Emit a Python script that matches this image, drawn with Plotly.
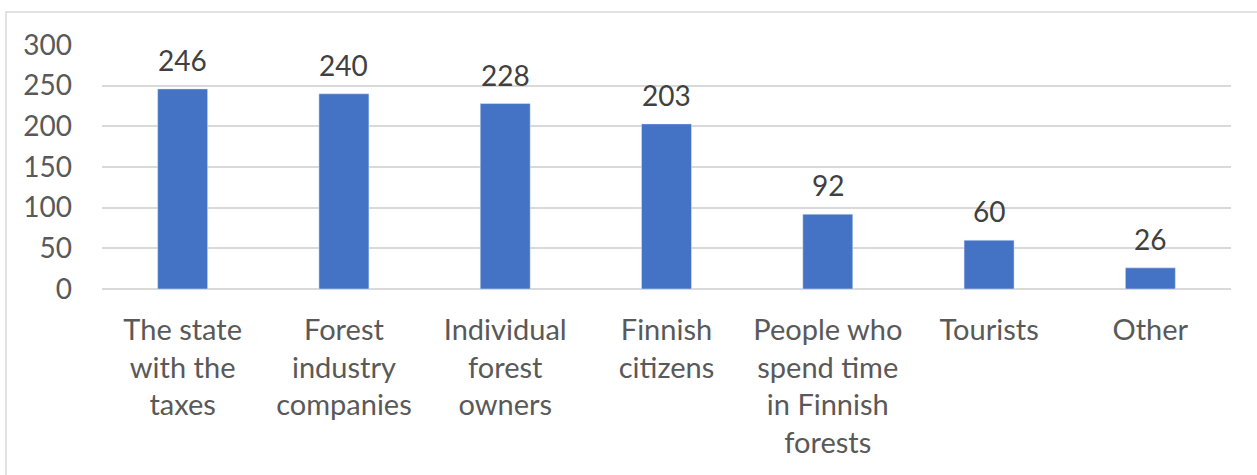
import plotly.graph_objects as go

categories = ["The state<br>with the<br>taxes", "Forest<br>industry<br>companies",
              "Individual<br>forest<br>owners", "Finnish<br>citizens",
              "People who<br>spend time<br>in Finnish<br>forests", "Tourists", "Other"]
values = [246, 240, 228, 203, 92, 60, 26]
y_ticks = [0, 50, 100, 150, 200, 250, 300]

W, H = 1257, 475
L, R, T, B = 102, 26, 45, 186
pw, ph = W - L - R, H - T - B

fig = go.Figure(go.Bar(
    x=categories, y=values, marker_color="#4472C4",
))

for c, v in zip(categories, values):
    fig.add_annotation(x=c, y=v, text=str(v), showarrow=False, yanchor="middle",
                       yshift=29, font=dict(size=28, color="#404040", family="Lato"))

fig.update_layout(
    width=W, height=H,
    margin=dict(l=L, r=R, t=T, b=B),
    paper_bgcolor="white", plot_bgcolor="white",
    bargap=0.69, showlegend=False,
    font=dict(family="Lato", color="#595959", size=28),
)
fig.update_xaxes(showgrid=False, showline=False, ticks="", tickfont=dict(size=29, color="#595959"),
                 ticklabelstandoff=21)
fig.update_yaxes(range=[0, 300], tickvals=y_ticks, showgrid=True, gridcolor="#d9d9d9", gridwidth=1.5,
                 zeroline=True, zerolinecolor="#d9d9d9", zerolinewidth=1.5,
                 tickfont=dict(size=28, color="#595959"), ticks="", ticklabelstandoff=29)

# chart border (Excel chart area outline)
fig.add_shape(type="rect", xref="paper", yref="paper",
              x0=(6 - L) / pw, x1=(W + 10 - L) / pw,
              y0=(H - B - (H + 10)) / ph, y1=(H - B - 12) / ph,
              line=dict(color="#d9d9d9", width=1.5), fillcolor="rgba(0,0,0,0)", layer="below")

fig.write_html("out.html")
